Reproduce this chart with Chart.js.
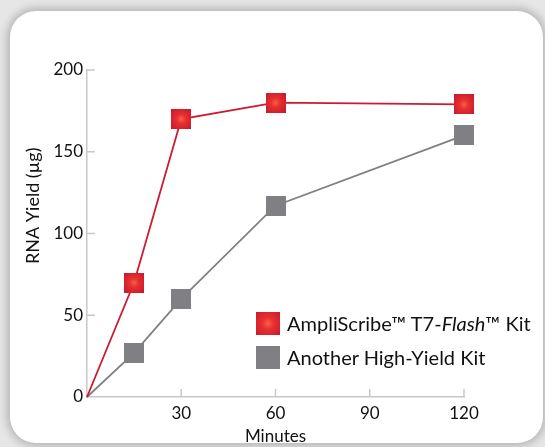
<!DOCTYPE html>
<html>
<head>
<meta charset="utf-8">
<script src="https://cdn.jsdelivr.net/npm/chart.js@4.4.1/dist/chart.umd.min.js"></script>
<style>
  html, body { margin: 0; padding: 0; }
  body {
    width: 545px; height: 447px; overflow: hidden; position: relative;
    background: #e6e6e6; font-family: Lato, "Open Sans", sans-serif;
  }
  .card {
    position: absolute; left: 10px; top: 11px; width: 533px; height: 432px;
    background: #fff; border-radius: 26px;
    box-shadow: 0 0 8px 3px rgba(0,0,0,0.22);
  }
  #wrap { position: absolute; left: 0; top: 0; width: 545px; height: 447px; }
  .legend { position: absolute; left: 256px; top: 306px; color: #111; font-size: 20px; }
  .legend div { display: flex; align-items: center; height: 34px; }
  .legend span.box { width: 24px; height: 23px; margin-right: 7px; display: inline-block; }
</style>
</head>
<body>
<div class="card"></div>
<div id="wrap"><canvas id="chart" width="545" height="447"></canvas></div>
<div class="legend" id="legend"></div>
<script>
// Time points (minutes) and yields (µg)
const minutes = [0, 15, 30, 60, 120];
const ampliScribe = [0, 70, 170, 180, 179];
const anotherKit = [0, 27, 60, 117, 160];
const xTicks = [30, 60, 90, 120];
const yTicks = [0, 50, 100, 150, 200];
const seriesNames = ['AmpliScribe™ T7-<i>Flash</i>™ Kit', 'Another High-Yield Kit'];

const RED = '#cc1a30';
const GRAY = '#808084';

function makeMarker(kind) {
  const c = document.createElement('canvas');
  c.width = 20; c.height = 20;
  const g = c.getContext('2d');
  if (kind === 'red') {
    const grad = g.createRadialGradient(10, 10, 0, 10, 10, 13);
    grad.addColorStop(0, '#f8614a');
    grad.addColorStop(0.35, '#e8302f');
    grad.addColorStop(1, '#c81a2e');
    g.fillStyle = grad;
  } else {
    g.fillStyle = GRAY;
  }
  g.fillRect(0, 0, 20, 20);
  return c;
}
const redMarker = makeMarker('red');
const grayMarker = makeMarker('gray');

// legend built from the series names
document.getElementById('legend').innerHTML = seriesNames.map((name, i) => `
  <div><span class="box" style="background:${i === 0
    ? 'radial-gradient(circle, #f8614a 0%, #e8302f 35%, #c81a2e 100%)' : GRAY}"></span><span>${name}</span></div>
`).join('');

// inner tick marks + y title
const extras = {
  id: 'extras',
  afterDraw(chart) {
    const ctx = chart.ctx;
    const xs = chart.scales.x, ys = chart.scales.y;
    ctx.save();
    ctx.strokeStyle = '#c8c8c8';
    ctx.lineWidth = 1.5;
    yTicks.forEach(v => {
      if (v === 0) return;
      const y = ys.getPixelForValue(v);
      ctx.beginPath(); ctx.moveTo(xs.left, y); ctx.lineTo(xs.left + 8, y); ctx.stroke();
    });
    xTicks.forEach(v => {
      const x = xs.getPixelForValue(v);
      ctx.beginPath(); ctx.moveTo(x, ys.bottom); ctx.lineTo(x, ys.bottom - 8); ctx.stroke();
    });
    ctx.fillStyle = '#111';
    ctx.font = '18px Lato';
    ctx.textAlign = 'center';
    ctx.textBaseline = 'middle';
    ctx.translate(33, ys.top + (ys.bottom - ys.top) * 0.415);
    ctx.rotate(-Math.PI / 2);
    ctx.fillText('RNA Yield (µg)', 0, 0);
    ctx.restore();
  }
};

new Chart(document.getElementById('chart'), {
  type: 'line',
  data: {
    datasets: [
      {
        label: 'AmpliScribe T7-Flash Kit',
        data: minutes.map((m, i) => ({ x: m, y: ampliScribe[i] })),
        borderColor: RED, borderWidth: 1.8,
        pointStyle: redMarker, pointRadius: minutes.map(m => m === 0 ? 0 : 10),
        tension: 0, clip: false
      },
      {
        label: 'Another High-Yield Kit',
        data: minutes.map((m, i) => ({ x: m, y: anotherKit[i] })),
        borderColor: GRAY, borderWidth: 1.8,
        pointStyle: grayMarker, pointRadius: minutes.map(m => m === 0 ? 0 : 10),
        tension: 0, clip: false
      }
    ]
  },
  options: {
    responsive: false,
    animation: false,
    layout: { padding: { left: 0, top: 70, right: 81, bottom: 0 } },
    plugins: { legend: { display: false }, tooltip: { enabled: false } },
    scales: {
      x: {
        type: 'linear', min: 0, max: 120,
        afterBuildTicks: s => { s.ticks = xTicks.map(v => ({ value: v })); },
        afterFit: s => { s.height = 50; },
        grid: { display: true, drawOnChartArea: false, drawTicks: false },
        border: { color: '#c8c8c8', width: 1.5 },
        ticks: { color: '#111', font: { family: 'Lato', size: 17 }, padding: 6, maxRotation: 0 },
        title: { display: true, text: 'Minutes', color: '#111', font: { family: 'Lato', size: 17 }, padding: { top: -3, bottom: 0 } }
      },
      y: {
        min: 0, max: 200,
        afterBuildTicks: s => { s.ticks = yTicks.map(v => ({ value: v })); },
        afterFit: s => { s.width = 87; },
        grid: { display: true, drawOnChartArea: false, drawTicks: false },
        border: { color: '#c8c8c8', width: 1.5 },
        ticks: { color: '#111', font: { family: 'Lato', size: 17 }, padding: 4 }
      }
    }
  },
  plugins: [extras]
});
</script>
</body>
</html>
